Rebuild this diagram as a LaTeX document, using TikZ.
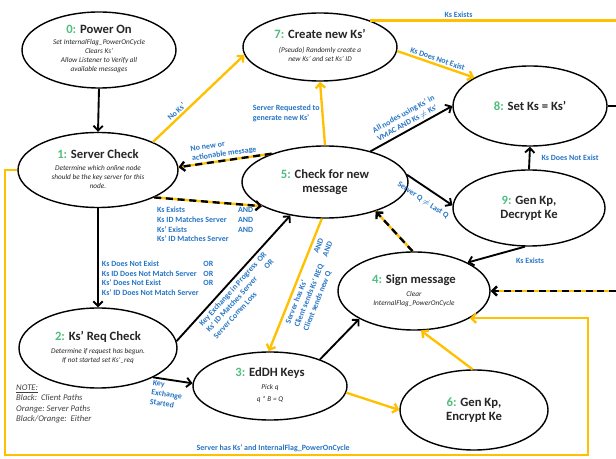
\documentclass[tikz,border=0pt]{standalone}
\usepackage{fontspec}
\setmainfont{Carlito}
\usetikzlibrary{shapes.geometric,arrows.meta}
\definecolor{numgreen}{RGB}{80,190,125}
\definecolor{srvorange}{RGB}{255,192,0}
\definecolor{lblblue}{RGB}{38,117,196}
\newcommand{\ttlfont}{\fontsize{10.8}{13}\selectfont\bfseries}
\newcommand{\sttitle}[2]{{\ttlfont\textcolor{numgreen}{#1:} #2}}
\newcommand{\stdesc}[1]{{\fontsize{6.2}{7.6}\selectfont\itshape\begin{tabular}{@{}c@{}}#1\end{tabular}}}
\begin{document}
\begin{tikzpicture}[x=0.03cm,y=-0.03cm,
    state/.style={ellipse,draw=black,line width=1.2pt,fill=white,align=center,inner sep=0pt,text=black!85},
    cli/.style={draw=black,line width=1.6pt,-{Straight Barb[length=4pt,width=8pt]}},
    srv/.style={draw=srvorange,line width=2pt,-{Straight Barb[length=4pt,width=8pt]}},
    mixd/.style={draw=black,line width=2pt,dash pattern=on 6pt off 4pt,-{Straight Barb[length=4pt,width=8pt]},
      preaction={draw=srvorange,line width=2pt,solid,-}},
    lbl/.style={text=lblblue,font=\fontsize{6.8}{8.2}\selectfont\bfseries,align=left,inner sep=1.5pt}]
  \useasboundingbox (0,0) rectangle (616,459);
  % states
  \node[state,minimum width=4.62cm,minimum height=2.28cm] (pwr) at (99,50)
    {\sttitle{0}{Power On}\\[3pt]\stdesc{Set InternalFlag\_PowerOnCycle\\Clears Ks'\\Allow Listener to Verify all\\available messages}};
  \node[state,minimum width=4.8cm,minimum height=2.25cm] (srvchk) at (98,170)
    {\sttitle{1}{Server Check}\\[4pt]\stdesc{Determine which online node\\should be the key server for this\\node.}};
  \node[state,minimum width=4.74cm,minimum height=2.4cm] (reqchk) at (98,348)
    {\sttitle{2}{Ks' Req Check}\\[3pt]\stdesc{Determine if request has begun.\\If not started set Ks'\_req}};
  \node[state,minimum width=4.62cm,minimum height=2.04cm] (eddh) at (270,386)
    {\sttitle{3}{EdDH Keys}\\[3pt]\stdesc{Pick q\\[3pt]q * B = Q}};
  \node[state,minimum width=4.56cm,minimum height=2.34cm] (sign) at (414,291)
    {\sttitle{4}{Sign message}\\[3pt]\stdesc{Clear\\InternalFlag\_PowerOnCycle}};
  \node[state,minimum width=4.98cm,minimum height=2.16cm] (chkmsg) at (325,182)
    {\sttitle{5}{Check for new}\\{\ttlfont message}};
  \node[state,minimum width=4.44cm,minimum height=2.4cm] (genenc) at (474,410)
    {\sttitle{6}{Gen Kp,}\\{\ttlfont Encrypt Ke}};
  \node[state,minimum width=4.62cm,minimum height=2.04cm] (newks) at (320,47)
    {\sttitle{7}{Create new Ks'}\\[4pt]\stdesc{(Pseudo) Randomly create a\\new Ks' and set Ks' ID}};
  \node[state,minimum width=4.62cm,minimum height=2.4cm] (setks) at (530,106)
    {\sttitle{8}{Set Ks = Ks'}};
  \node[state,minimum width=4.56cm,minimum height=2.28cm] (gendec) at (529,208)
    {\sttitle{9}{Gen Kp,}\\{\ttlfont Decrypt Ke}};
  \coordinate (topR) at (616,20);
  \coordinate (midR) at (616,106);
  \coordinate (signR) at (616,291);
  \coordinate (loopL) at (5,455);
  \coordinate (loopR) at (588,455);
  % client paths
  \draw[cli] (pwr.south) -- (srvchk.north);
  \draw[cli] (srvchk.south) -- (reqchk.north);
  \draw[cli] (reqchk.5) -- node[lbl,sloped,below,pos=0.45]
    {\begin{tabular}{@{}l@{\hspace{3pt}}l@{}}Key Exchange in Progress&OR\\Ks' ID Matches Server&OR\\Server Comm Loss&\end{tabular}} (chkmsg.224);
  \draw[cli] (reqchk.-28) -- node[lbl,sloped,below,pos=0.4] {Key\\Exchange\\Started} (eddh.178);
  \draw[cli] (eddh.28) -- (sign.207);
  \draw[cli] (chkmsg.34) -- node[lbl,sloped,above,pos=0.5] {All nodes using Ks' in\\VMAC AND Ks \ensuremath{\neq} Ks'} (setks.180);
  \draw[cli] (chkmsg.5) -- node[lbl,sloped,below=5pt,pos=0.5] {Server Q \ensuremath{\neq} Last Q} (gendec.178);
  \draw[cli] (gendec.north) -- node[lbl,right=8pt] {Ks Does Not Exist} (setks.south);
  \draw[cli] (gendec.-96) -- node[lbl,below right,pos=0.2,yshift=-5pt] {Ks Exists} (sign.28);
  \draw[draw=black,line width=1.6pt] (setks.east) -- (midR);
  % server paths
  \draw[srv] (srvchk.27) -- node[lbl,sloped,above,pos=0.3] {No Ks'} (newks.186);
  \draw[srv] (chkmsg.north) -- node[lbl,left,pos=0.5] {Server Requested to\\generate new Ks'} (newks.south);
  \draw[srv] (newks.-3) -- node[lbl,sloped,above,pos=0.5] {Ks Does Not Exist} (setks.153);
  \draw[srv,-] (newks.28) -- node[lbl,above,pos=0.36] {Ks Exists} (newks.28 -| topR);
  \draw[srv] (chkmsg.265) -- node[lbl,sloped,below,pos=0.45]
    {\begin{tabular}{@{}l@{\hspace{8pt}}l@{}}Server has Ks'&AND\\Client sends Ks' REQ&AND\\Client sends new Q&\end{tabular}} (eddh.92);
  \draw[srv] (eddh.-5) -- (genenc.180);
  \draw[srv] (genenc.92) -- (sign.-80);
  \draw[srv] (srvchk.west) -| (loopL) -- node[lbl,above,pos=0.46] {Server has Ks' and InternalFlag\_PowerOnCycle}
    (loopR) |- (sign.-26);
  % either
  \draw[mixd] (chkmsg.152) -- node[lbl,sloped,above,pos=0.5] {No new or\\actionable message} (srvchk.2);
  \draw[mixd] (srvchk.-26) -- node[lbl,pos=0,anchor=north west,yshift=-5pt]
    {\begin{tabular}{@{}l@{\hspace{8pt}}l@{}}Ks Exists&AND\\Ks ID Matches Server&AND\\Ks' Exists&AND\\Ks' ID Matches Server&\end{tabular}} (chkmsg.201);
  \draw[mixd] (sign.92) -- (chkmsg.-30);
  \draw[mixd] (signR) -- (sign.east);
  \node[lbl,anchor=north west] (orlist) at (100,258)
    {\begin{tabular}{@{}l@{\hspace{4pt}}l@{}}Ks Does Not Exist&OR\\Ks ID Does Not Match Server&OR\\Ks' Does Not Exist&OR\\Ks' ID Does Not Match Server&\end{tabular}};
  \node[anchor=north west,align=left,inner sep=0pt,text=black!75,font=\fontsize{7.4}{8.6}\selectfont\itshape] (note) at (16,385)
    {\underline{NOTE:}\\Black:\ \ Client Paths\\Orange:\ Server Paths\\Black/Orange:\ \ Either};
\end{tikzpicture}
\end{document}
